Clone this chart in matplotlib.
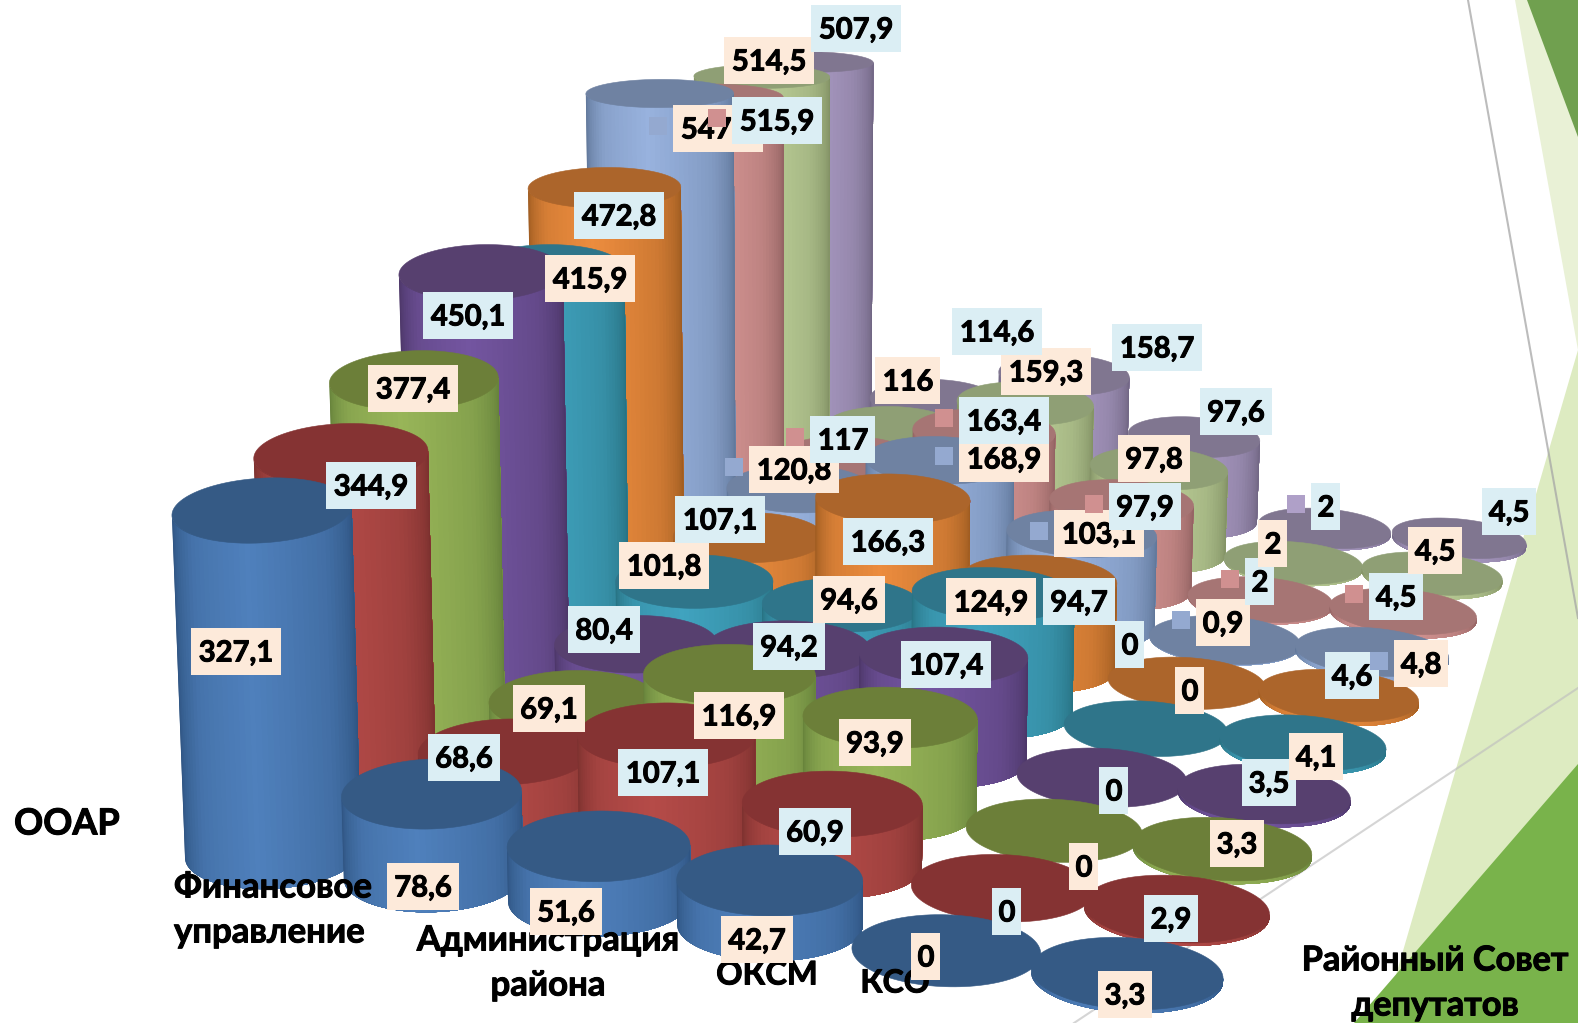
#!/usr/bin/env python3
import numpy as np
import matplotlib
matplotlib.use("Agg")
import matplotlib.pyplot as plt
import matplotlib.patheffects as pe
from matplotlib.collections import PolyCollection
from matplotlib.colors import to_rgb
from matplotlib.patches import Polygon, Rectangle

# ----------------------------------------------------------
# Data: one list per series, front row first
# ----------------------------------------------------------
departments = ["ООАР", "Финансовое\nуправление", "Администрация\nрайона", "ОКСМ", "КСО",
               "Районный Совет\nдепутатов"]
s1 = [327.1, 78.6, 51.6, 42.7, 0, 3.3]
s2 = [344.9, 68.6, 107.1, 60.9, 0, 2.9]
s3 = [377.4, 69.1, 116.9, 93.9, 0, 3.3]
s4 = [450.1, 80.4, 94.2, 107.4, 0, 3.5]
s5 = [415.9, 101.8, 94.6, 124.9, 0, 4.1]
s6 = [472.8, 107.1, 166.3, 94.7, 0, 4.6]
s7 = [547.5, 120.8, 168.9, 103.1, 0.9, 4.8]
s8 = [515.9, 117, 163.4, 97.9, 2, 4.5]
s9 = [514.5, 116, 159.3, 97.8, 2, 4.5]
s10 = [507.9, 114.6, 158.7, 97.6, 2, 4.5]
series = [s1, s2, s3, s4, s5, s6, s7, s8, s9, s10]

# ----------------------------------------------------------
# Styles
# ----------------------------------------------------------
# light side, dark edge, cap
palette = [
    ("#4F80BC", "#2E5380", "#355A85"),
    ("#B54B48", "#7A302E", "#853333"),
    ("#98B558", "#64803A", "#6C7F39"),
    ("#7355A0", "#4A3565", "#57406F"),
    ("#40A3BF", "#277080", "#2F758A"),
    ("#EC8C3E", "#9B5A20", "#AC652B"),
    ("#98B2DE", "#5E7496", "#6F82A2"),
    ("#DA9896", "#8F6060", "#A67574"),
    ("#BFD29A", "#7F8E62", "#8F9F75"),
    ("#AE9EC8", "#6E6480", "#807690"),
]
BOX_COLORS = ["#FDEADA", "#DBEEF4"]
KEY_COLORS = {6: "#94A9D0", 7: "#D09090", 9: "#AFA0C8"}
keyed = [(6, c) for c in range(6)] + [(7, c) for c in range(6)] + [(9, 4)]

# screen centres of the value labels, per series
label_xy = [
    [(236, 651), (423, 886), (566, 911), (757, 939), (926, 956), (1125, 994)],
    [(371, 485), (464, 757), (663, 772), (815, 831), (1007, 911), (1171, 918)],
    [(413, 388), (549, 708), (739, 715), (875, 742), (1084, 866), (1237, 843)],
    [(468, 315), (604, 629), (789, 646), (946, 664), (1114, 790), (1269, 782)],
    [(590, 278), (664, 565), (849, 599), (991, 601), (1190, 690), (1316, 756)],
    [(619, 215), (720, 519), (888, 541), (1079, 601), (1130, 644), (1352, 675)],
    [(718, 128), (794, 469), (1004, 458), (1099, 533), (1223, 622), (1421, 663)],
    [(777, 120), (843, 439), (1004, 420), (1145, 506), (1260, 581), (1396, 596)],
    [(769, 60), (908, 380), (1046, 371), (1154, 458), (1273, 543), (1435, 550)],
    [(856, 28), (997, 331), (1157, 347), (1236, 411), (1326, 506), (1509, 511)],
]
dept_xy = [(67, 824), (174, 910), (548, 963), (767, 975), (895, 983), (1435, 983)]
dept_ha = ["center", "left", "center", "center", "center", "center"]
dept_size = [26, 25, 25, 23.5, 23, 24.7]

# the columns are not spaced quite evenly across the floor
col_pos = [0, 1.025, 2.04, 3.04, 4.03, 5]


# ----------------------------------------------------------
# Floor and camera: grid cell (col, row) -> screen position
# ----------------------------------------------------------
def homography(src, dst):
    a, b = [], []
    for (u, v), (x, y) in zip(src, dst):
        a.append([u, v, 1, 0, 0, 0, -u * x, -v * x])
        a.append([0, 0, 0, u, v, 1, -u * y, -v * y])
        b += [x, y]
    return np.append(np.linalg.solve(np.array(a, float), np.array(b, float)), 1).reshape(3, 3)


FLOOR = homography([(0, 0), (5, 0), (5, 9), (0, 9)],
                   [(273, 853), (1127, 977), (1459, 542), (808, 484)])


def floor_xy(col, row):
    p = FLOOR @ np.array([col_pos[col], row, 1.0])
    return p[0] / p[2], p[1] / p[2]


def radius(col, row):
    front = 88 + (96 - 88) * col / 5
    back = 63 + (67 - 63) * col / 5
    return front + (back - front) * row / 9


def aspect(x, y):
    flat = np.interp(y, [60, 180, 280], [0.19, 0.28, 0.36])
    return flat - 0.00006 * (x - 260) + 0.00015 * max(y - 536, 0)


def ring(cx, cy, rx, ry, theta):
    tilt = (cx - 700) * 0.00012
    dx = rx * np.cos(theta)
    return cx + dx, cy + ry * np.sin(theta) + tilt * dx


def side_colors(light, dark, n):
    light, dark = np.array(to_rgb(light)), np.array(to_rgb(dark))
    t = np.linspace(0, 1, n)
    mix = np.interp(t, [0, 0.22, 0.45, 0.75, 1], [0, 0.72, 1, 0.62, 0])
    return dark + (light - dark) * mix[:, None]


def draw_cylinder(ax, col, row, value, z):
    light, dark, cap = palette[row]
    bx, by = floor_xy(col, row)
    rx = radius(col, row)
    grow = value * 0.000065
    tx = 800 + (bx - 800) * (1 + grow)
    ty = by - value * np.interp(row, [0, 1, 9], [1.047, 0.999, 0.831])
    rt = rx * (1 + grow)
    ry_b = rx * aspect(bx, by)
    ry_t = rt * aspect(tx, ty)
    if value > 0:
        n = 48
        th = np.linspace(np.pi, 0, n + 1)
        xb, yb = ring(bx, by, rx, ry_b, th)
        xt, yt = ring(tx, ty, rt, ry_t, th)
        # each strip runs on to the right edge and the next paints over it, so no seams show
        verts = [np.column_stack([np.r_[xb[i:], xt[i:][::-1]], np.r_[yb[i:], yt[i:][::-1]]])
                 for i in range(n)]
        cols = side_colors(light, dark, n)
        ax.add_collection(PolyCollection(verts, facecolors=cols, edgecolors="none", zorder=z))
    th = np.linspace(0, 2 * np.pi, 120)
    xc, yc = ring(tx, ty, rt, ry_t, th)
    ax.add_patch(Polygon(np.column_stack([xc, yc]), closed=True, facecolor=cap,
                         edgecolor=cap, linewidth=0.4, zorder=z + 0.5))


# ----------------------------------------------------------
# Figure
# ----------------------------------------------------------
plt.rcParams["font.family"] = ["Lato", "DejaVu Sans"]
fig = plt.figure(figsize=(15.78, 10.23), dpi=100)
ax = fig.add_axes([0, 0, 1, 1])
ax.set_xlim(0, 1578)
ax.set_ylim(1023, 0)
ax.axis("off")

# slide decoration behind the chart
ax.add_patch(Polygon([(1515, 0), (1578, 0), (1578, 350)], facecolor="#E9F1D6", zorder=1))
ax.add_patch(Polygon([(1527, 0), (1578, 0), (1578, 137)], facecolor="#70A04F", zorder=1.1))
ax.add_patch(Polygon([(1578, 350), (1578, 1023), (1382, 1023)], facecolor="#DDEBC1", zorder=1))
ax.add_patch(Polygon([(1578, 764), (1578, 1023), (1354, 1023)], facecolor="#79B34B", zorder=1.1))
ax.plot([1468, 1578], [0, 618], color="#A6A6A6", alpha=0.75, lw=1.5, zorder=1.2)
ax.plot([1074, 1578], [1023, 688], color="#BFBFBF", alpha=0.65, lw=1.5, zorder=1.2)

z = 3
for row in range(len(series) - 1, -1, -1):
    for col in range(len(departments)):
        draw_cylinder(ax, col, row, series[row][col], z)
        z += 1

heavy = [pe.withStroke(linewidth=0.7, foreground="black")]
for name, (x, y), ha, size in zip(departments, dept_xy, dept_ha, dept_size):
    ax.text(x, y, name, fontsize=size, fontweight="bold", color="black", ha=ha, va="center",
            multialignment=ha, linespacing=1.5, zorder=z, path_effects=heavy)
z += 1

for row, values in enumerate(series):
    for col, value in enumerate(values):
        text = f"{value:g}".replace(".", ",")
        digits = sum(ch.isdigit() for ch in text)
        w = 18 * digits + 7 * text.count(",") + 11
        h = 47
        x, y = label_xy[row][col]
        ax.add_patch(Rectangle((x - w / 2, y - h / 2), w, h, facecolor=BOX_COLORS[row % 2],
                               edgecolor="none", zorder=z))
        ax.text(x, y, text, fontsize=21, fontweight="bold", color="black", ha="center",
                va="center_baseline", zorder=z + 0.1, path_effects=heavy)
        if (row, col) in keyed:
            ax.add_patch(Rectangle((x - w / 2 - 24, y - 11), 18, 18, facecolor=KEY_COLORS[row],
                                   edgecolor="none", zorder=z + 0.2))
        z += 1

fig.savefig("out.png", dpi=100)
